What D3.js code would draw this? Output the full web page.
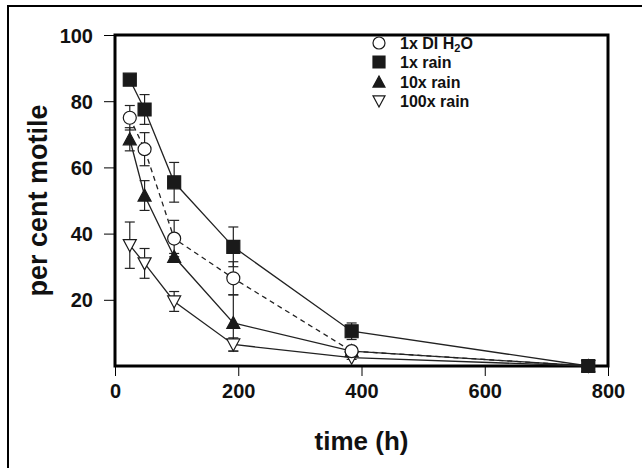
<!DOCTYPE html>
<html>
<head>
<meta charset="utf-8">
<script src="https://cdn.jsdelivr.net/npm/d3@7"></script>
<style>
  body { margin: 0; background: #fff; }
  svg { display: block; font-family: "Liberation Sans", Arial, sans-serif; }
</style>
</head>
<body>
<div id="chart"></div>
<script>
// --- Data ---
const times = [24, 48, 96, 192, 384, 768];
const diWater = [75, 65.5, 38.5, 26.5, 4.5, 0];
const diWaterErr = [3.7, 5, 5.5, 5, 1, 0];
const rain1x = [86.5, 77.5, 55.5, 36, 10.5, 0];
const rain1xErr = [1, 4.5, 6, 6, 2.5, 1.5];
const rain10x = [68.5, 51.5, 33, 13, 4.5, 0];
const rain10xErr = [3.5, 4.5, 1, 8.5, 1, 0];
const rain100x = [36.5, 31, 19.5, 6.5, 2.5, 0];
const rain100xErr = [7, 4.5, 3, 2, 0.5, 0];
const xTicks = [0, 200, 400, 600, 800];
const yTicks = [20, 40, 60, 80, 100];

const series = [
  { name: "1x DI H\u2082O", values: diWater, err: diWaterErr, marker: "circle", dashed: true },
  { name: "1x rain", values: rain1x, err: rain1xErr, marker: "square", dashed: false },
  { name: "10x rain", values: rain10x, err: rain10xErr, marker: "triUp", dashed: false },
  { name: "100x rain", values: rain100x, err: rain100xErr, marker: "triDown", dashed: false }
];
// markers stacked bottom -> top
const drawOrder = [3, 2, 0, 1];

const width = 642, height = 468;
const plot = { left: 115, right: 608, top: 35, bottom: 366 };

const svg = d3.select("#chart").append("svg")
  .attr("width", width)
  .attr("height", height);

// outer frame (runs off the right/bottom of the picture)
svg.append("rect")
  .attr("x", 8).attr("y", 6)
  .attr("width", 700).attr("height", 500)
  .attr("fill", "none").attr("stroke", "#000").attr("stroke-width", 2);

const x = d3.scaleLinear().domain([0, 800]).range([plot.left, plot.right]);
const y = d3.scaleLinear().domain([0, 100]).range([plot.bottom, plot.top]);

// Axes ticks
const xAxis = d3.axisBottom(x).tickValues(xTicks).tickSize(10).tickPadding(8);
const yAxis = d3.axisLeft(y).tickValues(yTicks).tickSize(11).tickPadding(11);

const gx = svg.append("g")
  .attr("transform", `translate(0,${plot.bottom})`)
  .call(xAxis);
const gy = svg.append("g")
  .attr("transform", `translate(${plot.left},0)`)
  .call(yAxis);
[gx, gy].forEach(g => {
  g.select(".domain").remove();
  g.selectAll(".tick line").attr("stroke", "#000").attr("stroke-width", 1);
  g.selectAll(".tick text")
    .attr("fill", "#111")
    .attr("font-size", 20)
    .attr("font-weight", "bold");
});
gy.selectAll(".tick text").attr("dy", "0.35em");

// plot frame (thick)
svg.append("rect")
  .attr("x", plot.left).attr("y", plot.top)
  .attr("width", plot.right - plot.left)
  .attr("height", plot.bottom - plot.top)
  .attr("fill", "none").attr("stroke", "#000").attr("stroke-width", 3);

// axis titles
svg.append("text")
  .attr("transform", `translate(40,${(plot.top + plot.bottom) / 2}) rotate(-90)`)
  .attr("text-anchor", "middle")
  .attr("dominant-baseline", "middle")
  .attr("font-size", 27)
  .attr("font-weight", "bold")
  .attr("fill", "#111")
  .text("per cent motile");
svg.append("text")
  .attr("x", (plot.left + plot.right) / 2)
  .attr("y", 450)
  .attr("text-anchor", "middle")
  .attr("font-size", 26)
  .attr("font-weight", "bold")
  .attr("fill", "#111")
  .text("time (h)");

// marker shapes
function markerPath(type, s) {
  const h = s / 2;
  if (type === "square") return `M${-h},${-h}H${h}V${h}H${-h}Z`;
  if (type === "triUp") return `M0,${-h}L${h},${h * 0.85}L${-h},${h * 0.85}Z`;
  if (type === "triDown") return `M${-h},${-h * 0.85}L${h},${-h * 0.85}L0,${h}Z`;
  return d3.arc()({ innerRadius: 0, outerRadius: h, startAngle: 0, endAngle: 2 * Math.PI });
}
function markerFill(type) {
  return (type === "square" || type === "triUp") ? "#1a1a1a" : "#fff";
}

const line = d3.line()
  .x((d, i) => x(times[i]))
  .y(d => y(d));

// lines
series.forEach(s => {
  svg.append("path")
    .datum(s.values)
    .attr("fill", "none")
    .attr("stroke", "#222")
    .attr("stroke-width", 1.3)
    .attr("stroke-dasharray", s.dashed ? "5,4" : null)
    .attr("d", line);
});

// error bars
series.forEach(s => {
  const g = svg.append("g").attr("stroke", "#222").attr("stroke-width", 1.2);
  s.values.forEach((v, i) => {
    const e = s.err[i];
    if (!e) return;
    const cx = x(times[i]);
    g.append("line").attr("x1", cx).attr("x2", cx).attr("y1", y(v - e)).attr("y2", y(v + e));
    [v - e, v + e].forEach(val => {
      g.append("line").attr("x1", cx - 5).attr("x2", cx + 5).attr("y1", y(val)).attr("y2", y(val));
    });
  });
});

// markers
drawOrder.forEach(k => {
  const s = series[k];
  svg.append("g").selectAll("path")
    .data(s.values)
    .join("path")
    .attr("transform", (d, i) => `translate(${x(times[i])},${y(d)})`)
    .attr("d", markerPath(s.marker, 13))
    .attr("fill", markerFill(s.marker))
    .attr("stroke", "#1a1a1a")
    .attr("stroke-width", 1.2);
});

// legend
const legendY = [43, 62, 82, 101];
const legend = svg.append("g");
series.forEach((s, i) => {
  legend.append("path")
    .attr("transform", `translate(379,${legendY[i]})`)
    .attr("d", markerPath(s.marker, 12))
    .attr("fill", markerFill(s.marker))
    .attr("stroke", "#1a1a1a")
    .attr("stroke-width", 1.2);
  const t = legend.append("text")
    .attr("x", 400)
    .attr("y", legendY[i])
    .attr("dy", "0.36em")
    .attr("font-size", 16)
    .attr("font-weight", "bold")
    .attr("fill", "#111");
  if (s.marker === "circle") {
    t.append("tspan").text("1x DI H");
    t.append("tspan").attr("font-size", 11).attr("dy", 3).text("2");
    t.append("tspan").attr("dy", -3).text("O");
  } else {
    t.text(s.name);
  }
});
</script>
</body>
</html>
